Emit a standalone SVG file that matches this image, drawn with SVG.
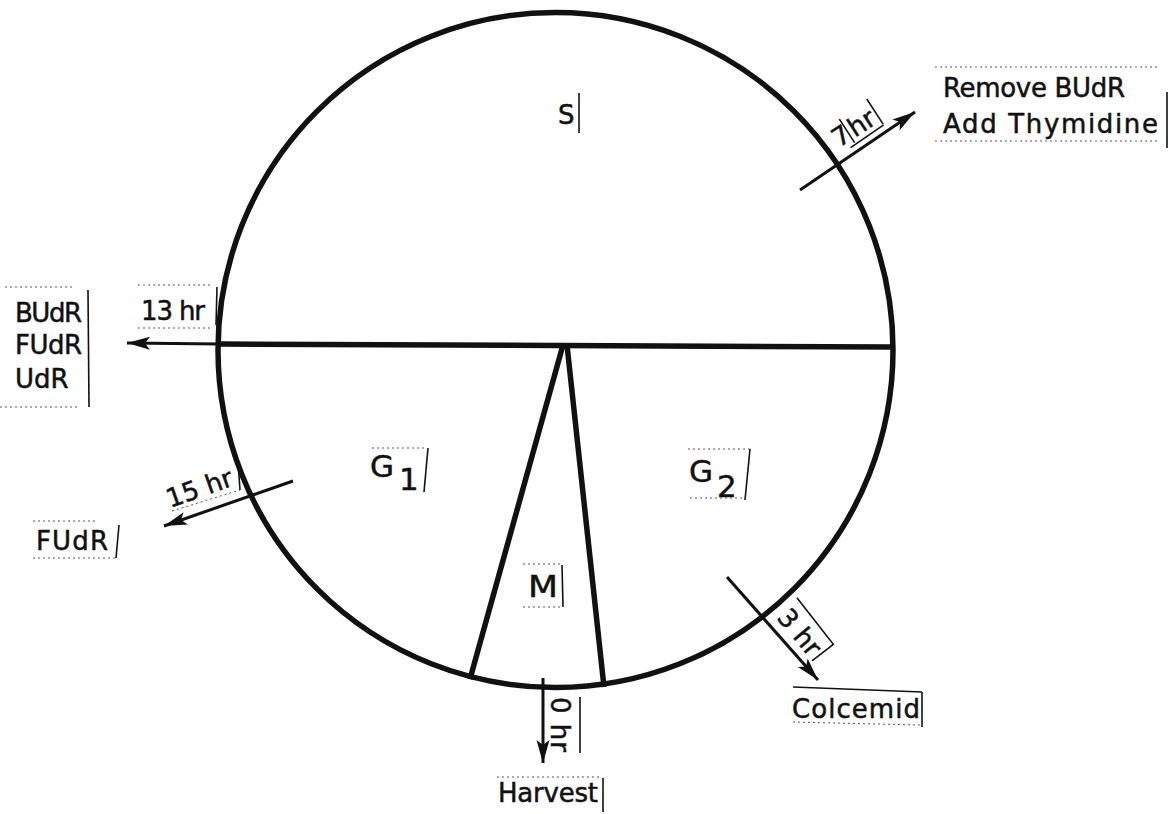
<svg xmlns="http://www.w3.org/2000/svg" width="1171" height="814" viewBox="0 0 1171 814">
<style>
  .t{font-family:"DejaVu Sans","Liberation Sans",sans-serif;font-size:26px;fill:#111;stroke:#111;stroke-width:0.5}
  .big{font-size:31px}
  .heavy{fill:none;stroke:#111;stroke-width:5.5}
  .arr{fill:none;stroke:#111;stroke-width:3}
  .bar{fill:none;stroke:#111;stroke-width:1.6}
  .dot{fill:none;stroke:#555;stroke-width:1;stroke-dasharray:2 3}
</style>
<defs>
  <marker id="ah" markerUnits="userSpaceOnUse" markerWidth="26" markerHeight="16" refX="23" refY="7" orient="auto">
    <path d="M0,0.5 L23,7 L0,13.5 L5,7 z" fill="#111"/>
  </marker>
</defs>
<rect width="1171" height="814" fill="#fff"/>

<g id="cycle">
  <circle cx="555.5" cy="350" r="337.5" class="heavy"/>
  <line x1="219" y1="344" x2="892" y2="347" class="heavy"/>
  <line x1="563" y1="345" x2="470" y2="679" class="heavy"/>
  <line x1="567" y1="345" x2="604" y2="687" class="heavy"/>
</g>

<g id="connectors">
  <line x1="800" y1="190" x2="915" y2="112" class="arr" marker-end="url(#ah)"/>
  <line x1="219" y1="344" x2="127" y2="343" class="arr" marker-end="url(#ah)"/>
  <line x1="293" y1="481" x2="164" y2="526" class="arr" marker-end="url(#ah)"/>
  <line x1="727" y1="577" x2="818" y2="680" class="arr" marker-end="url(#ah)"/>
  <line x1="543" y1="678" x2="543" y2="763" class="arr" marker-end="url(#ah)"/>
</g>

<g id="label-S">
  <text class="t" x="558" y="124" font-size="27">S</text>
  <line x1="579" y1="93" x2="579" y2="133" class="bar"/>
</g>

<g id="label-G1">
  <text class="t big" x="370" y="477">G</text>
  <text class="t big" x="399" y="490">1</text>
  <line x1="372" y1="448" x2="425" y2="448" class="dot"/>
  <line x1="428" y1="448" x2="424" y2="492" class="bar"/>
</g>

<g id="label-G2">
  <text class="t big" x="689" y="482">G</text>
  <text class="t big" x="717" y="497">2</text>
  <line x1="688" y1="449" x2="750" y2="449" class="dot"/>
  <line x1="690" y1="498" x2="742" y2="498" class="dot"/>
  <line x1="750" y1="449" x2="745" y2="500" class="bar"/>
</g>

<g id="label-M">
  <text class="t big" x="528" y="597" textLength="30" lengthAdjust="spacingAndGlyphs">M</text>
  <line x1="523" y1="564" x2="560" y2="564" class="dot"/>
  <line x1="523" y1="607" x2="562" y2="607" class="dot"/>
  <line x1="562" y1="565" x2="563" y2="607" class="bar"/>
</g>

<g id="label-7hr" transform="translate(839,148) rotate(-33)">
  <text class="t" x="0" y="0" font-size="28">7</text>
  <text class="t" x="19" y="0" font-size="28">hr</text>
  <line x1="16" y1="4" x2="16" y2="-24" class="bar"/>
  <line x1="50" y1="4" x2="50" y2="-26" class="bar"/>
  <line x1="10" y1="6" x2="50" y2="5" class="bar"/>
</g>

<g id="label-remove">
  <text class="t" x="943" y="97" textLength="182" lengthAdjust="spacing">Remove BUdR</text>
  <text class="t" x="943" y="133" textLength="215" lengthAdjust="spacing">Add Thymidine</text>
  <line x1="935" y1="67" x2="1160" y2="67" class="dot"/>
  <line x1="935" y1="141" x2="1160" y2="141" class="dot"/>
  <line x1="1167" y1="92" x2="1167" y2="148" class="bar"/>
</g>

<g id="label-13hr">
  <text class="t" x="141" y="320" textLength="64" lengthAdjust="spacing">13 hr</text>
  <line x1="138" y1="285" x2="212" y2="285" class="dot"/>
  <line x1="138" y1="328" x2="212" y2="328" class="dot"/>
  <line x1="217" y1="287" x2="216" y2="325" class="bar"/>
</g>

<g id="label-budr">
  <text class="t" x="15" y="322" textLength="67" lengthAdjust="spacing">BUdR</text>
  <text class="t" x="15" y="354" textLength="67" lengthAdjust="spacing">FUdR</text>
  <text class="t" x="15" y="388">UdR</text>
  <line x1="5" y1="287" x2="75" y2="287" class="dot"/>
  <line x1="0" y1="407" x2="80" y2="407" class="dot"/>
  <line x1="88" y1="290" x2="89" y2="407" class="bar"/>
</g>

<g id="label-15hr">
  <text class="t" transform="translate(170,508) rotate(-19.5)">15 hr</text>
  <line x1="172" y1="511" x2="240" y2="490" class="dot"/>
  <line x1="238" y1="462" x2="240" y2="490" class="bar"/>
</g>

<g id="label-fudr">
  <text class="t" x="36" y="550" textLength="72" lengthAdjust="spacing">FUdR</text>
  <line x1="33" y1="521" x2="97" y2="521" class="dot"/>
  <line x1="33" y1="558" x2="115" y2="558" class="dot"/>
  <line x1="119" y1="525" x2="116" y2="558" class="bar"/>
</g>

<g id="label-3hr" transform="translate(776,618) rotate(50)">
  <text class="t" x="0" y="0">3 hr</text>
  <polyline points="-2,-29 57,-27 56,0" class="bar"/>
</g>

<g id="label-colcemid">
  <text class="t" x="792" y="718" textLength="128" lengthAdjust="spacing">Colcemid</text>
  <line x1="793" y1="687" x2="922" y2="692" class="bar"/>
  <line x1="793" y1="722" x2="920" y2="725" class="dot"/>
  <line x1="922" y1="692" x2="922" y2="727" class="bar"/>
</g>

<g id="label-0hr">
  <text class="t" transform="translate(551,697) rotate(90)" textLength="55" lengthAdjust="spacing">0 hr</text>
  <line x1="580" y1="697" x2="580" y2="753" class="bar"/>
</g>

<g id="label-harvest">
  <text class="t" x="498" y="802" textLength="100" lengthAdjust="spacing">Harvest</text>
  <line x1="497" y1="777" x2="600" y2="777" class="dot"/>
  <line x1="603" y1="778" x2="603" y2="812" class="bar"/>
</g>
</svg>
